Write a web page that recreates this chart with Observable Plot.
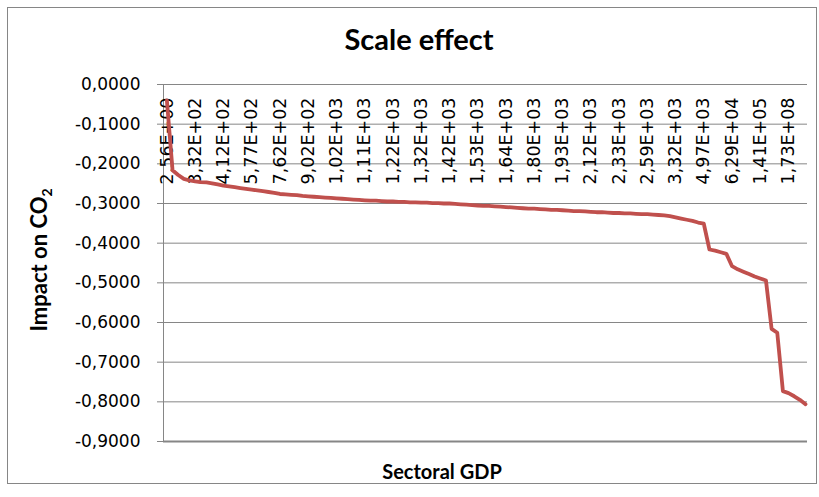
<!DOCTYPE html>
<html>
<head>
<meta charset="utf-8">
<script src="https://cdn.jsdelivr.net/npm/d3@7"></script>
<script src="https://cdn.jsdelivr.net/npm/@observablehq/plot@0.6"></script>
<style>
  body { margin: 0; background: #fff; }
  #chart { position: relative; width: 819px; height: 497px; }
  g[aria-label^="y-axis"] line, g[aria-label="y-axis tick"] path { stroke: #868686; }
  g[aria-label^="y-axis"] path.domain { display: none; }
</style>
</head>
<body>
<div id="chart"></div>
<script>
// ---- data ----
const title = "Scale effect";
const xTitle = "Sectoral GDP";
const yTitleMain = "Impact on CO";
const yTitleSub = "2";

// category labels (every 5th category is labelled)
const tickLabels = ["2,56E+00","3,32E+02","4,12E+02","5,77E+02","7,62E+02","9,02E+02",
  "1,02E+03","1,11E+03","1,22E+03","1,32E+03","1,42E+03","1,53E+03","1,64E+03",
  "1,80E+03","1,93E+03","2,12E+03","2,33E+03","2,59E+03","3,32E+03","4,97E+03",
  "6,29E+04","1,41E+05","1,73E+08"];
const labelEvery = 5;

// impact on CO2, one value per sector (sorted by sectoral GDP)
const impact = [
  -0.040,-0.216,-0.228,-0.238,-0.242,-0.244,-0.246,-0.247,-0.249,-0.252,
  -0.255,-0.257,-0.259,-0.261,-0.263,-0.265,-0.267,-0.269,-0.271,-0.273,
  -0.276,-0.277,-0.278,-0.279,-0.281,-0.282,-0.283,-0.284,-0.285,-0.286,
  -0.287,-0.288,-0.289,-0.290,-0.291,-0.292,-0.293,-0.293,-0.294,-0.295,
  -0.295,-0.296,-0.296,-0.297,-0.297,-0.298,-0.298,-0.299,-0.299,-0.300,
  -0.300,-0.301,-0.302,-0.303,-0.304,-0.305,-0.306,-0.306,-0.307,-0.308,
  -0.309,-0.310,-0.311,-0.312,-0.313,-0.313,-0.314,-0.315,-0.316,-0.316,
  -0.317,-0.318,-0.319,-0.319,-0.320,-0.321,-0.322,-0.322,-0.323,-0.324,
  -0.324,-0.325,-0.325,-0.326,-0.327,-0.327,-0.328,-0.329,-0.330,-0.332,
  -0.335,-0.338,-0.341,-0.344,-0.348,-0.351,-0.416,-0.419,-0.423,-0.427,
  -0.458,-0.466,-0.472,-0.478,-0.484,-0.489,-0.494,-0.616,-0.626,-0.773,
  -0.778,-0.786,-0.795,-0.806
];

const yTicks = [0,-0.1,-0.2,-0.3,-0.4,-0.5,-0.6,-0.7,-0.8,-0.9];
const yFmt = d => (Math.abs(d) < 1e-9 ? 0 : d).toFixed(4).replace(".", ",");

// ---- chart ----
const xDomain = [-0.6, impact.length - 1 + 0.35];
const labelData = tickLabels.map((t, j) => ({t, i: j * labelEvery}));
const lineData = impact.map((v, i) => ({i, v}));

const plot = Plot.plot({
  width: 819,
  height: 497,
  marginLeft: 163,
  marginRight: 12,
  marginTop: 84,
  marginBottom: 56,
  style: {fontFamily: "'DejaVu Sans', sans-serif", fontSize: "17px", color: "#000", background: "transparent", overflow: "visible"},
  x: {domain: xDomain, axis: null},
  y: {domain: [d3.min(yTicks), d3.max(yTicks)], ticks: yTicks, tickFormat: yFmt, tickSize: 6, tickPadding: 17, label: null},
  marks: [
    Plot.ruleY(yTicks, {stroke: "#868686", strokeWidth: 1}),
    Plot.ruleY([d3.min(yTicks)], {stroke: "#868686", strokeWidth: 2}),
    Plot.ruleX([xDomain[0]], {stroke: "#868686", strokeWidth: 1}),
    Plot.text(labelData, {x: "i", y: () => 0, text: "t", rotate: -90, textAnchor: "end", dy: 13, fill: "#000", fontSize: 17.5}),
    Plot.line(lineData, {x: "i", y: "v", stroke: "#C0504D", strokeWidth: 3.8, strokeLinejoin: "round", strokeLinecap: "round"})
  ]
});

const chart = document.getElementById("chart");
chart.appendChild(plot);

const svg = d3.select(plot.tagName.toLowerCase() === "svg" ? plot : plot.querySelector("svg"));

// chart-area border
svg.insert("rect", ":first-child")
  .attr("x", 7.5).attr("y", 7.5).attr("width", 809).attr("height", 476)
  .attr("fill", "#fff").attr("stroke", "#868686").attr("stroke-width", 1);

// title
svg.append("text")
  .attr("x", 419).attr("y", 50)
  .attr("text-anchor", "middle")
  .style("font-family", "Lato, 'Open Sans', sans-serif")
  .style("font-weight", "bold").style("font-size", "29px").attr("fill", "#000")
  .text(title);

// x title
svg.append("text")
  .attr("x", 442).attr("y", 479)
  .attr("text-anchor", "middle")
  .style("font-family", "Lato, 'Open Sans', sans-serif")
  .style("font-weight", "bold").style("font-size", "20px").attr("fill", "#000")
  .text(xTitle);

// y title with subscript
const yt = svg.append("text")
  .attr("transform", "translate(47,260) rotate(-90)")
  .attr("text-anchor", "middle")
  .style("font-family", "Lato, 'Open Sans', sans-serif")
  .style("font-weight", "bold").style("font-size", "22px").attr("fill", "#000");
yt.append("tspan").text(yTitleMain);
yt.append("tspan").attr("dy", 5).style("font-size", "14px").text(yTitleSub);
</script>
</body>
</html>
